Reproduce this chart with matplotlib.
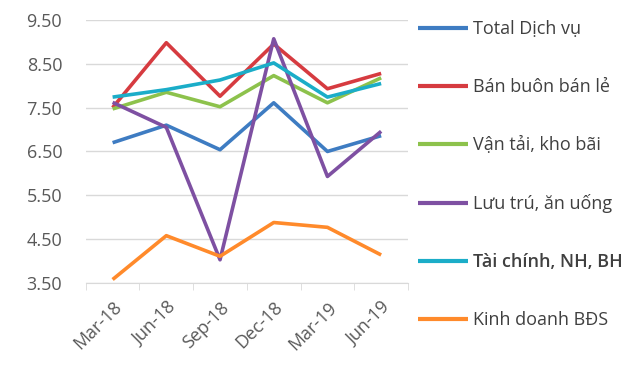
import matplotlib.pyplot as plt
import numpy as np

plt.rcParams['font.family'] = ['Open Sans', 'DejaVu Sans']

quarters = ['Mar-18', 'Jun-18', 'Sep-18', 'Dec-18', 'Mar-19', 'Jun-19']
total_dich_vu = [6.70, 7.10, 6.54, 7.61, 6.50, 6.86]
ban_buon_ban_le = [7.50, 8.98, 7.76, 8.95, 7.93, 8.28]
van_tai_kho_bai = [7.47, 7.85, 7.52, 8.23, 7.61, 8.18]
luu_tru_an_uong = [7.62, 7.05, 4.03, 9.07, 5.93, 6.96]
tai_chinh = [7.74, 7.91, 8.13, 8.52, 7.74, 8.05]
kinh_doanh_bds = [3.58, 4.58, 4.11, 4.88, 4.77, 4.14]

series = [
    ('Total Dịch vụ', total_dich_vu, '#3E7CC2'),
    ('Bán buôn bán lẻ', ban_buon_ban_le, '#D63B40'),
    ('Vận tải, kho bãi', van_tai_kho_bai, '#8DC24C'),
    ('Lưu trú, ăn uống', luu_tru_an_uong, '#7E50A2'),
    ('Tài chính, NH, BH', tai_chinh, '#1BADC8'),
    ('Kinh doanh BĐS', kinh_doanh_bds, '#FF8A2B'),
]

fig = plt.figure(figsize=(6.4, 3.69), dpi=100)
ax = fig.add_axes([0.134, 0.233, 0.5035, 0.713])

x = np.arange(len(quarters))
for label, vals, color in series:
    ax.plot(x, vals, color=color, lw=2.6, label=label, solid_capstyle='butt')

ax.set_xlim(-0.5, len(quarters) - 0.5)
ax.set_ylim(3.5, 9.5)
yt = np.arange(3.5, 9.6, 1.0)
ax.set_yticks(yt)
ax.set_yticklabels([f'{v:.2f}' for v in yt])
ax.grid(axis='y', color='#D9D9D9', lw=1)
ax.set_axisbelow(True)

ax.set_xticks(x)
ax.set_xticklabels(quarters, rotation=45, ha='right', rotation_mode='anchor')
ax.set_xticks(np.arange(-0.5, len(quarters)), minor=True)
ax.tick_params(axis='x', which='major', length=0, pad=11, labelsize=13, labelcolor='#595959')
ax.tick_params(axis='x', which='minor', length=5, color='#D9D9D9')
ax.tick_params(axis='y', length=0, pad=17, labelsize=13, labelcolor='#595959')

for s in ['top', 'right', 'left']:
    ax.spines[s].set_visible(False)
ax.spines['bottom'].set_color('#D9D9D9')

leg = fig.legend(loc='upper left', bbox_to_anchor=(0.627, 0.99), frameon=False,
                 fontsize=13, labelspacing=2.22, handlelength=2.8, handletextpad=0.25,
                 labelcolor='#404040')
for line in leg.get_lines():
    line.set_linewidth(3)
leg.get_texts()[4].set_fontweight('semibold')

fig.savefig('out.png', dpi=100)
